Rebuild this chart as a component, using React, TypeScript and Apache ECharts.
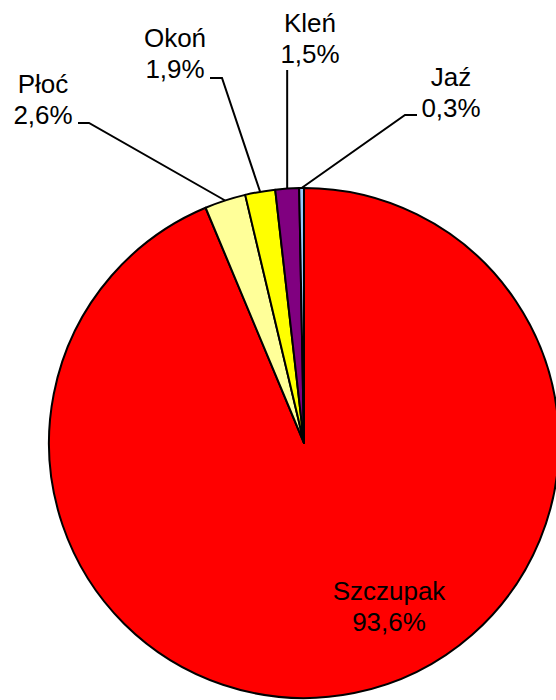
import React, { useEffect, useRef } from "react";
import * as echarts from "echarts";

const categories = ["Szczupak", "Płoć", "Okoń", "Kleń", "Jaź"];
const shares = [93.6, 2.6, 1.9, 1.5, 0.3];
const colors = ["#FF0000", "#FFFF99", "#FFFF00", "#800080", "#99CCFF"];

// label placement (text block centre) and leader-line bend/end points
const labelSpots: { x: number; y: number; bend?: number[]; end?: number[] }[] = [
  { x: 389, y: 606 },
  { x: 43, y: 99, bend: [89, 123], end: [78, 123] },
  { x: 175, y: 53, bend: [222, 78], end: [210, 78] },
  { x: 310, y: 38, bend: [0, 70] },
  { x: 451, y: 92, bend: [405, 115], end: [417, 115] },
];

const CX = 304;
const CY = 443;
const R = 255;

function edgePoint(i: number): number[] {
  const total = shares.reduce((a, b) => a + b, 0);
  let before = 0;
  for (let k = 0; k < i; k++) before += shares[k];
  const mid = ((before + shares[i] / 2) / total) * Math.PI * 2;
  return [CX + R * Math.sin(mid), CY - R * Math.cos(mid)];
}

export default function App() {
  const ref = useRef<HTMLDivElement>(null);
  useEffect(() => {
    document.body.style.margin = "0";
    const chart = echarts.init(ref.current!, null, { renderer: "svg" });
    chart.setOption({
      animation: false,
      backgroundColor: "#ffffff",
      series: [
        {
          type: "pie",
          center: [CX, CY],
          radius: R,
          startAngle: 90,
          clockwise: true,
          silent: true,
          avoidLabelOverlap: false,
          itemStyle: { borderColor: "#000000", borderWidth: 2 },
          emphasis: { disabled: true },
          label: {
            show: true,
            position: "outside",
            color: "#000000",
            fontFamily: "Liberation Sans, Arial, sans-serif",
            fontSize: 26,
            lineHeight: 31,
            align: "center",
            formatter: (p: any) =>
              `${p.name}\n${String(p.value).replace(".", ",")}%`,
          },
          labelLine: {
            show: true,
            length: 10,
            length2: 10,
            lineStyle: { color: "#000000", width: 2 },
          },
          labelLayout: (params: any) => {
            const i = params.dataIndex;
            const s = labelSpots[i];
            const out: any = {
              x: s.x,
              y: s.y,
              align: "center",
              verticalAlign: "middle",
            };
            if (i === 0) return out;
            const p0 =
              params.labelLinePoints && params.labelLinePoints[0]
                ? params.labelLinePoints[0]
                : edgePoint(i);
            if (s.end) {
              out.labelLinePoints = [p0, s.bend, s.end];
            } else if (s.bend) {
              out.labelLinePoints = [p0, [p0[0], s.bend[1]], [p0[0], s.bend[1]]];
            }
            return out;
          },
          data: categories.map((name, i) => ({
            name,
            value: shares[i],
            itemStyle: { color: colors[i] },
            labelLine: { show: i !== 0 },
          })),
        },
      ],
    });
    return () => chart.dispose();
  }, []);
  return <div ref={ref} style={{ width: 556, height: 700 }} />;
}
